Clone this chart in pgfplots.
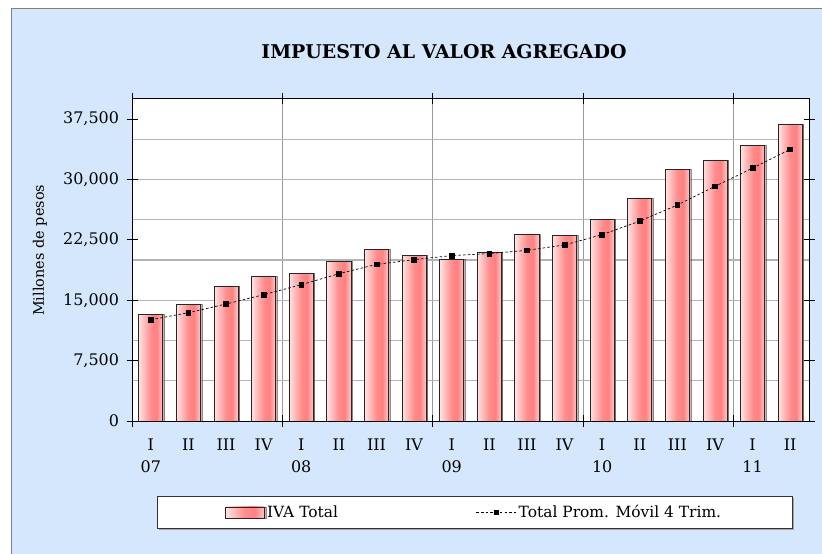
\documentclass[border=0pt]{standalone}
\usepackage{pgfplots}
\pgfplotsset{compat=1.18}
\usetikzlibrary{shadows}
\usepackage{fontspec}
\setmainfont{DejaVu Serif}
\definecolor{bgblue}{RGB}{212,231,252}
\definecolor{gridgray}{RGB}{180,180,180}
\definecolor{barL}{RGB}{255,226,226}
\definecolor{barM}{RGB}{255,140,140}
\definecolor{barR}{RGB}{255,128,128}
\definecolor{barE}{RGB}{255,200,200}
\pgfdeclarehorizontalshading{barshade}{100bp}{color(0bp)=(barL); color(25bp)=(barL); color(50bp)=(barM); color(62bp)=(barR); color(75bp)=(barE); color(100bp)=(barE)}
\pgfplotsset{mybar/.style={ybar, bar width=0.64, bar shift=0pt, draw=black!85, line width=0.8bp, shading=barshade,
  drop shadow={shadow xshift=1.5bp, shadow yshift=0bp, opacity=0.5, fill=black!70}}}
\begin{document}
\begin{tikzpicture}
\useasboundingbox (0bp,0bp) rectangle (822bp,554bp);
\fill[white] (0bp,0bp) rectangle (822bp,554bp);
\fill[bgblue] (11bp,0bp) rectangle (822bp,545bp);
\draw[gray, line width=1bp] (11bp,0bp) -- (11bp,545bp) -- (822bp,545bp);
\node[font=\bfseries\fontsize{19}{23}\selectfont] at (444bp,502bp) {IMPUESTO AL VALOR AGREGADO};
\fill[gray!70] (159bp,24bp) rectangle (794bp,56bp);
\draw[black!80, fill=white, line width=0.8bp] (157bp,25.5bp) rectangle (792bp,58bp);
\begin{axis}[
  at={(132bp,133bp)}, anchor=south west,
  width=677bp, height=322bp, scale only axis,
  xmin=-0.5, xmax=17.5, ymin=0, ymax=40000,
  axis background/.style={fill=white},
  axis line style={black, line width=1bp},
  tick align=center,
  major tick length=11bp,
  minor tick length=0pt,
  ytick={0,7500,...,37500},
  minor ytick={5000,10000,...,35000},
  yminorgrids=true,
  minor y grid style={gridgray, line width=1.1bp},
  y tick style={black, line width=0.9bp},
  yticklabel style={font=\fontsize{16}{19}\selectfont, xshift=-4bp},
  /pgf/number format/.cd, 1000 sep={,}, assume math mode=true, /pgfplots/.cd,
  scaled y ticks=false,
  xtick={-0.5,3.5,7.5,11.5,15.5},
  xticklabels={},
  xmajorgrids=true,
  major x grid style={gray!80, line width=1bp},
  x tick style={black, line width=0.9bp},
  extra x ticks={0,1,...,17},
  extra x tick labels={{I\\07},II,III,IV,{I\\08},II,III,IV,{I\\09},II,III,IV,{I\\10},II,III,IV,{I\\11},II},
  extra x tick style={grid=none, major tick length=0pt},
  xticklabel style={align=center, font=\fontsize{16}{22}\selectfont, yshift=-14bp},
  ylabel={Millones de pesos},
  ylabel style={at={(axis description cs:-0.136,0.53)}, anchor=center, font=\fontsize{14.5}{17}\selectfont},
  legend style={at={(axis description cs:0.1374,-0.284)}, anchor=west, draw=none, fill=none,
    font=\fontsize{15.5}{18}\selectfont, inner sep=0pt,
    /tikz/every even column/.append style={column sep=136bp}},
  legend columns=2,
  legend cell align=left,
]
\addplot[mybar,
  legend image code/.code={\draw[draw=black!85, line width=0.8bp, shading=barshade] (0bp,-5.5bp) rectangle (39bp,5.5bp);}]
  coordinates {(0,13290)};
\addlegendentry{IVA Total}
\addplot[mybar, forget plot] coordinates {(1,14500)};
\addplot[mybar, forget plot] coordinates {(2,16770)};
\addplot[mybar, forget plot] coordinates {(3,18000)};
\addplot[mybar, forget plot] coordinates {(4,18380)};
\addplot[mybar, forget plot] coordinates {(5,19870)};
\addplot[mybar, forget plot] coordinates {(6,21360)};
\addplot[mybar, forget plot] coordinates {(7,20620)};
\addplot[mybar, forget plot] coordinates {(8,20080)};
\addplot[mybar, forget plot] coordinates {(9,20950)};
\addplot[mybar, forget plot] coordinates {(10,23190)};
\addplot[mybar, forget plot] coordinates {(11,23100)};
\addplot[mybar, forget plot] coordinates {(12,25090)};
\addplot[mybar, forget plot] coordinates {(13,27700)};
\addplot[mybar, forget plot] coordinates {(14,31260)};
\addplot[mybar, forget plot] coordinates {(15,32380)};
\addplot[mybar, forget plot] coordinates {(16,34240)};
\addplot[mybar, forget plot] coordinates {(17,36890)};
\addplot[black, line width=0.7bp, dash pattern=on 2.5bp off 2.2bp, mark=square*, mark size=2.4bp, mark options={solid},
  legend image code/.code={\draw[black, line width=0.7bp, dash pattern=on 2.5bp off 2.2bp, mark=square*, mark size=2.4bp, mark options={solid}, mark repeat=2, mark phase=2] plot coordinates {(0bp,0bp) (20bp,0bp) (40bp,0bp)};}]
  coordinates {(0,12580) (1,13450) (2,14530) (3,15690) (4,16930) (5,18300) (6,19450) (7,20040) (8,20550) (9,20800) (10,21200) (11,21870) (12,23150) (13,24830) (14,26830) (15,29150) (16,31410) (17,33740)};
\addlegendentry{Total Prom. Móvil 4 Trim.}
\end{axis}
\end{tikzpicture}
\end{document}
